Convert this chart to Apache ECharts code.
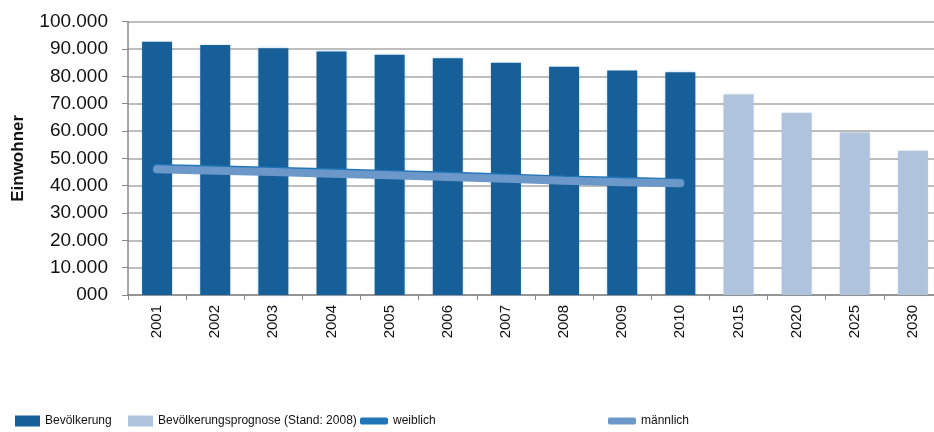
<!DOCTYPE html>
<html>
<head>
<meta charset="utf-8">
<script src="https://cdn.jsdelivr.net/npm/echarts@6/dist/echarts.min.js"></script>
<style>
  html, body { margin: 0; padding: 0; background: #fff; }
  #chart { width: 934px; height: 432px; }
</style>
</head>
<body>
<div id="chart"></div>
<script>
const years = ['2001', '2002', '2003', '2004', '2005', '2006', '2007', '2008', '2009', '2010', '2015', '2020', '2025', '2030'];
const bevoelkerung = [92700, 91500, 90300, 89100, 87900, 86600, 85000, 83500, 82100, 81500, null, null, null, null];
const prognose = [null, null, null, null, null, null, null, null, null, null, 73400, 66700, 59500, 52800];
const weiblich = [46500, 46000, 45500, 44900, 44300, 43700, 43000, 42300, 41800, 41300, null, null, null, null];
const maennlich = [46000, 45500, 45000, 44400, 43800, 43200, 42500, 41800, 41300, 40900, null, null, null, null];

const FONT = '"Liberation Sans", Arial, sans-serif';
const DARK = '#175f98';
const LIGHT = '#b0c3dd';
const W_COLOR = '#1f75b8';
const M_COLOR = '#6c97c9';

const legendText = { fontFamily: FONT, fontSize: 12, color: '#111' };

const chart = echarts.init(document.getElementById('chart'), null, { renderer: 'canvas' });
chart.setOption({
  animation: false,
  textStyle: { fontFamily: FONT },
  grid: { left: 128, right: -8, top: 21.7, bottom: 137, containLabel: false, outerBoundsMode: 'none' },
  legend: [
    { left: 10, top: 410, data: ['Bevölkerung'], itemWidth: 25, itemHeight: 11, textStyle: legendText, icon: 'rect' },
    { left: 123, top: 410, data: ['Bevölkerungsprognose (Stand: 2008)'], itemWidth: 25, itemHeight: 11, textStyle: legendText, icon: 'rect' },
    { left: 355, top: 410, data: [{ name: 'weiblich', icon: 'roundRect' }], itemWidth: 28, itemHeight: 7, textStyle: legendText },
    { left: 603, top: 410, data: [{ name: 'männlich', icon: 'roundRect' }], itemWidth: 28, itemHeight: 7, textStyle: legendText }
  ],
  xAxis: {
    type: 'category',
    data: years,
    boundaryGap: true,
    axisLine: { lineStyle: { color: '#888', width: 1.5 } },
    axisTick: { show: true, length: 5, lineStyle: { color: '#888' } },
    axisLabel: { rotate: 90, margin: 10, fontFamily: FONT, fontSize: 15, color: '#111' }
  },
  yAxis: {
    type: 'value',
    min: 0,
    max: 100000,
    interval: 10000,
    name: 'Einwohner',
    nameLocation: 'middle',
    nameGap: 101,
    nameTextStyle: { fontFamily: FONT, fontSize: 17, fontWeight: 'bold', color: '#111' },
    axisLine: { show: true, lineStyle: { color: '#888', width: 1.5 } },
    axisTick: { show: true, length: 6, lineStyle: { color: '#888' } },
    axisLabel: {
      margin: 20,
      fontFamily: FONT,
      fontSize: 19,
      color: '#111',
      formatter: v => (v === 0 ? '000' : (v / 1000) + '.000')
    },
    splitLine: { show: true, lineStyle: { color: '#a8a8a8', width: 1.5 } }
  },
  series: [
    {
      name: 'Bevölkerung',
      type: 'bar',
      stack: 'b',
      barWidth: 30,
      data: bevoelkerung,
      itemStyle: { color: DARK, shadowColor: 'rgba(120,180,230,0.5)', shadowBlur: 3 }
    },
    {
      name: 'Bevölkerungsprognose (Stand: 2008)',
      type: 'bar',
      stack: 'b',
      barWidth: 30,
      data: prognose,
      itemStyle: { color: LIGHT, shadowColor: 'rgba(0,0,0,0.12)', shadowBlur: 3 }
    },
    {
      name: 'weiblich',
      type: 'line',
      data: weiblich,
      symbol: 'none',
      itemStyle: { color: W_COLOR },
      lineStyle: { color: W_COLOR, width: 8, cap: 'round' }
    },
    {
      name: 'männlich',
      type: 'line',
      data: maennlich,
      symbol: 'none',
      itemStyle: { color: M_COLOR },
      lineStyle: { color: M_COLOR, width: 8, cap: 'round' }
    }
  ]
});
</script>
</body>
</html>
